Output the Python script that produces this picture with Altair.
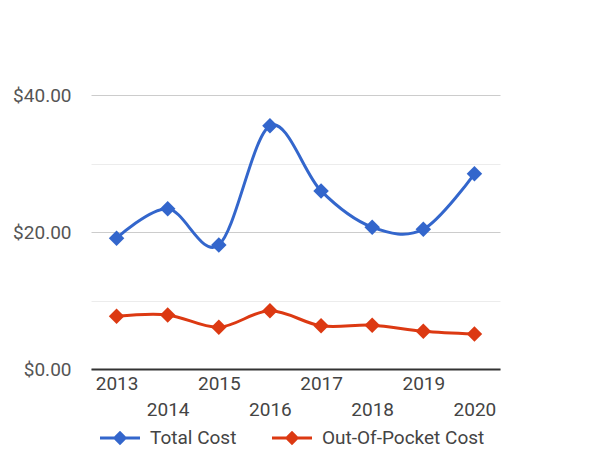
import altair as alt
import pandas as pd

years = ["2013", "2014", "2015", "2016", "2017", "2018", "2019", "2020"]
total_cost = [19.1, 23.4, 18.1, 35.5, 26.0, 20.7, 20.4, 28.5]
oop_cost = [7.7, 7.9, 6.1, 8.5, 6.3, 6.4, 5.5, 5.1]
series = ["Total Cost", "Out-Of-Pocket Cost"]
colors = ["#3366cc", "#dc3912"]
y_ticks = [0, 10, 20, 30, 40]

rows = []
for y, t, o in zip(years, total_cost, oop_cost):
    rows.append({"year": y, "series": series[0], "value": t})
    rows.append({"year": y, "series": series[1], "value": o})
df = pd.DataFrame(rows)

FONT = "Roboto"
FS = 19
legend_path = "M-1,-0.075L1,-0.075L1,0.075L-1,0.075Z M0,-0.36L0.36,0L0,0.36L-0.36,0Z"

x_enc = alt.X(
    "year:O",
    sort=years,
    scale=alt.Scale(type="point", padding=0.5),
    axis=alt.Axis(
        title=None,
        labelAngle=0,
        ticks=False,
        grid=False,
        domainColor="#333333",
        domainWidth=2,
        labelFont=FONT,
        labelFontSize=FS,
        labelColor="#444444",
        labelPadding=5,
        labelLineHeight=26,
        labelOverlap=False,
        labelBaseline="top",
        labelExpr="parseInt(datum.value) % 2 == 0 ? ['', datum.label] : datum.label",
    ),
)

y_enc = alt.Y(
    "value:Q",
    scale=alt.Scale(domain=[0, 40], nice=False),
    axis=alt.Axis(
        title=None,
        values=y_ticks,
        format="$.2f",
        labelExpr="datum.value % 20 == 0 ? datum.label : ''",
        ticks=False,
        domain=False,
        labelFont=FONT,
        labelFontSize=FS,
        labelColor="#555555",
        labelPadding=20,
        gridColor={"condition": {"test": "datum.value % 20 == 0", "value": "#cccccc"}, "value": "#ececec"},
        gridWidth=1,
    ),
)

color_scale = alt.Scale(domain=series, range=colors)

legend = alt.Legend(
    title=None,
    orient="none",
    direction="horizontal",
    legendX=9,
    legendY=323,
    symbolType=legend_path,
    symbolSize=1600,
    symbolStrokeWidth=0,
    symbolOpacity=1,
    symbolFillColor="#3366cc",
    labelFont=FONT,
    labelFontSize=FS,
    labelColor="#444444",
    labelOffset=10,
    labelLimit=400,
    columnPadding=35,
)

lines = alt.Chart(df).mark_line(interpolate="cardinal", strokeWidth=3).encode(
    x=x_enc,
    y=y_enc,
    color=alt.Color("series:N", scale=color_scale, sort=series, legend=legend),
    detail="series:N",
)

points = alt.Chart(df).mark_point(shape="diamond", size=240, filled=True, opacity=1).encode(
    x=x_enc,
    y=y_enc,
    color=alt.Color("series:N", scale=color_scale, sort=series, legend=legend),
)

chart = (
    alt.layer(lines, points)
    .properties(
        width=409,
        height=274,
        autosize=alt.AutoSizeParams(type="none"),
        padding={"left": 91, "top": 95, "right": 116, "bottom": 83},
        background="white",
    )
    .configure_view(stroke=None)
)

chart.save("out.html", embed_options={"renderer": "svg", "actions": False})
